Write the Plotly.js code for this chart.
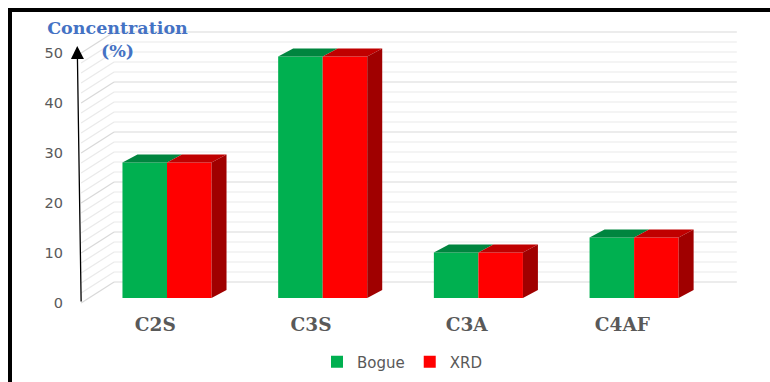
<!DOCTYPE html>
<html>
<head>
<meta charset="utf-8">
<script src="https://cdn.plot.ly/plotly-3.0.1.min.js"></script>
<style>html,body{margin:0;padding:0;background:#fff;}#chart{width:770px;height:382px;}</style>
</head>
<body>
<div id="chart"></div>
<script>
// ---- data ----
const categories = ['C2S', 'C3S', 'C3A', 'C4AF'];
const bogue = [27.1, 48.3, 9.1, 12.1];
const xrd = [27.1, 48.3, 9.1, 12.1];
const yTickVals = [0, 10, 20, 30, 40, 50];
const yMinorVals = [2, 4, 6, 8, 12, 14, 16, 18, 22, 24, 26, 28, 32, 34, 36, 38, 42, 44, 46, 48];
const seriesNames = ['Bogue', 'XRD'];

// ---- style / geometry ----
const BW = 0.286;            // bar width (category units)
const DX = 0.0963, DY = 1.6; // bar depth offset
const FX = -0.0514, FY = -1.0; // front axis plane offset
const BX = 0.16, BY = 3.2;   // back wall offset
const LABEL_SHIFT = -0.075;
const GREEN = '#00B050', GREEN_TOP = '#00853F';
const RED = '#FF0000', RED_TOP = '#C00000', RED_SIDE = '#A00000';

const xs = categories.map((c, i) => i);
const xLeft = -0.5, xRight = categories.length - 0.5;

function topFaces(vals, off) {
  const X = [], Y = [];
  vals.forEach((v, i) => {
    const x0 = xs[i] + off, x1 = x0 + BW;
    X.push(x0, x1, x1 + DX, x0 + DX, x0, null);
    Y.push(v, v, v + DY, v + DY, v, null);
  });
  return {X, Y};
}
function sideFaces(vals, off) {
  const X = [], Y = [];
  vals.forEach((v, i) => {
    const x1 = xs[i] + off + BW;
    X.push(x1, x1, x1 + DX, x1 + DX, x1, null);
    Y.push(0, v, v + DY, DY, 0, null);
  });
  return {X, Y};
}

const gTop = topFaces(bogue, -BW);
const rTop = topFaces(xrd, 0);
const rSide = sideFaces(xrd, 0);

const traces = [
  {type: 'bar', name: seriesNames[0], x: xs, y: bogue, width: BW, offset: -BW,
   marker: {color: GREEN, line: {width: 0}}, hoverinfo: 'skip'},
  {type: 'bar', name: seriesNames[1], x: xs, y: xrd, width: BW, offset: 0,
   marker: {color: RED, line: {width: 0}}, hoverinfo: 'skip'},
  {type: 'scatter', mode: 'lines', x: gTop.X, y: gTop.Y, fill: 'toself', fillcolor: GREEN_TOP,
   line: {width: 0, color: GREEN_TOP}, showlegend: false, hoverinfo: 'skip'},
  {type: 'scatter', mode: 'lines', x: rTop.X, y: rTop.Y, fill: 'toself', fillcolor: RED_TOP,
   line: {width: 0, color: RED_TOP}, showlegend: false, hoverinfo: 'skip'},
  {type: 'scatter', mode: 'lines', x: rSide.X, y: rSide.Y, fill: 'toself', fillcolor: RED_SIDE,
   line: {width: 0, color: RED_SIDE}, showlegend: false, hoverinfo: 'skip'}
];

// gridlines: back wall + left wall diagonals
const shapes = [];
const allGrid = yMinorVals.map(v => [v, false]).concat(yTickVals.map(v => [v, true]));
allGrid.forEach(([v, major]) => {
  const col = major ? '#D9D9D9' : '#EAEAEA';
  shapes.push({type: 'line', layer: 'below', xref: 'x', yref: 'y',
    x0: xLeft + BX, x1: xRight + BX, y0: v + BY, y1: v + BY, line: {color: col, width: 1.2}});
  shapes.push({type: 'line', layer: 'below', xref: 'x', yref: 'y',
    x0: xLeft + FX, x1: xLeft + BX, y0: v + FY, y1: v + BY, line: {color: col, width: 1.2}});
});
// frame (left + top thick border)
const L = 64, R = 20, T = 25, B = 76, W = 770 - L - R, H = 382 - T - B;
const px2x = p => (p - L) / W, py2y = p => (382 - B - p) / H;
shapes.push({type: 'line', xref: 'paper', yref: 'paper', x0: px2x(10), x1: px2x(10), y0: py2y(390), y1: py2y(10),
  line: {color: '#000', width: 4}});
shapes.push({type: 'line', xref: 'paper', yref: 'paper', x0: px2x(8), x1: px2x(780), y0: py2y(10), y1: py2y(10),
  line: {color: '#000', width: 4}});

const layout = {
  width: 770, height: 382,
  margin: {l: L, r: R, t: T, b: B},
  paper_bgcolor: '#fff', plot_bgcolor: 'rgba(0,0,0,0)',
  showlegend: true,
  title: {text: '<b>Concentration<br>(%)</b>', xref: 'container', yref: 'container',
    x: 117.5 / 770, xanchor: 'center', y: 1 - 34 / 382, yanchor: 'middle',
    font: {family: 'DejaVu Serif', size: 17.5, color: '#4472C4'}},
  xaxis: {range: [(L - 167) / 155.7, (770 - R - 167) / 155.7], showgrid: false, zeroline: false, showline: false,
    tickmode: 'array', tickvals: xs.map(x => x + LABEL_SHIFT), ticktext: categories.map(c => '<b>' + c + '</b>'),
    ticks: '', ticklabelstandoff: 5, tickfont: {family: 'DejaVu Serif', size: 18.5, color: '#595959'}, fixedrange: true},
  yaxis: {range: [(298 - (382 - B)) / 5, (298 - T) / 5], showgrid: false, zeroline: false, showline: false,
    tickmode: 'array', tickvals: yTickVals.map(v => v + FY), ticktext: yTickVals.map(String),
    ticks: '', tickfont: {family: 'DejaVu Sans', size: 14.5, color: '#595959'}, fixedrange: true},
  legend: {orientation: 'h', xref: 'container', yref: 'container', x: 402 / 770, xanchor: 'center',
    y: 1 - 362 / 382, yanchor: 'middle', font: {family: 'DejaVu Sans', size: 15, color: '#595959'},
    bgcolor: 'rgba(0,0,0,0)'},
  shapes: shapes,
  annotations: [{xref: 'x', yref: 'y', axref: 'x', ayref: 'y',
    x: xLeft + FX - 0.025, y: 51.4 + FY, ax: xLeft + FX, ay: FY,
    text: '', showarrow: true, arrowhead: 2, arrowsize: 2.0, arrowwidth: 1.3, arrowcolor: '#000'}],
  barmode: 'overlay'
};

Plotly.newPlot('chart', traces, layout, {staticPlot: true, displayModeBar: false});
</script>
</body>
</html>
